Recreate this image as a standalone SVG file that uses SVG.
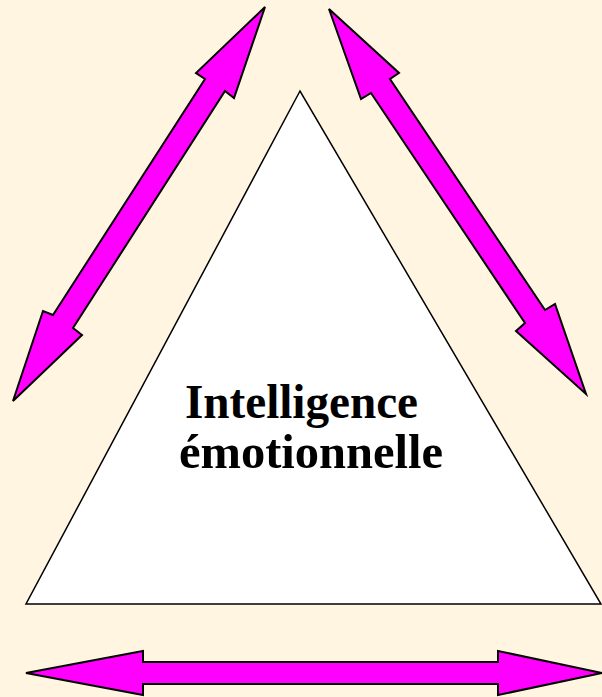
<svg xmlns="http://www.w3.org/2000/svg" width="602" height="697" viewBox="0 0 602 697">
<style>
.arrow{fill:#FF00FF;stroke:#000;stroke-width:2;stroke-linejoin:miter}
.tri{fill:#FFFFFF;stroke:#000;stroke-width:1.5}
.lbl{font-family:"Liberation Serif","Times New Roman",serif;font-weight:bold;font-size:48px;fill:#000;text-anchor:middle}
</style>
<rect x="0" y="0" width="602" height="697" fill="#FFF5E1"/>
<g id="triangle">
<polygon class="tri" points="300,91 26,604 601,604"/>
<text class="lbl" x="301.5" y="418" textLength="233" lengthAdjust="spacingAndGlyphs">Intelligence</text>
<text class="lbl" x="311" y="468" textLength="264" lengthAdjust="spacingAndGlyphs">émotionnelle</text>
</g>
<g id="connectors">
<polygon id="arrow-left" class="arrow" points="265,7 234,98 225,91 73,328 82,335 13,401 43,311 53,315 205,79 196,73"/>
<polygon id="arrow-right" class="arrow" points="329,9 399,73 390,79 545,310 555,304 586,394 516,331 525,323 371,93 361,99"/>
<polygon id="arrow-bottom" class="arrow" points="26,673 143,651 143,662 498,662 498,651 602,673 498,695 498,684 143,684 143,695"/>
</g>
</svg>
